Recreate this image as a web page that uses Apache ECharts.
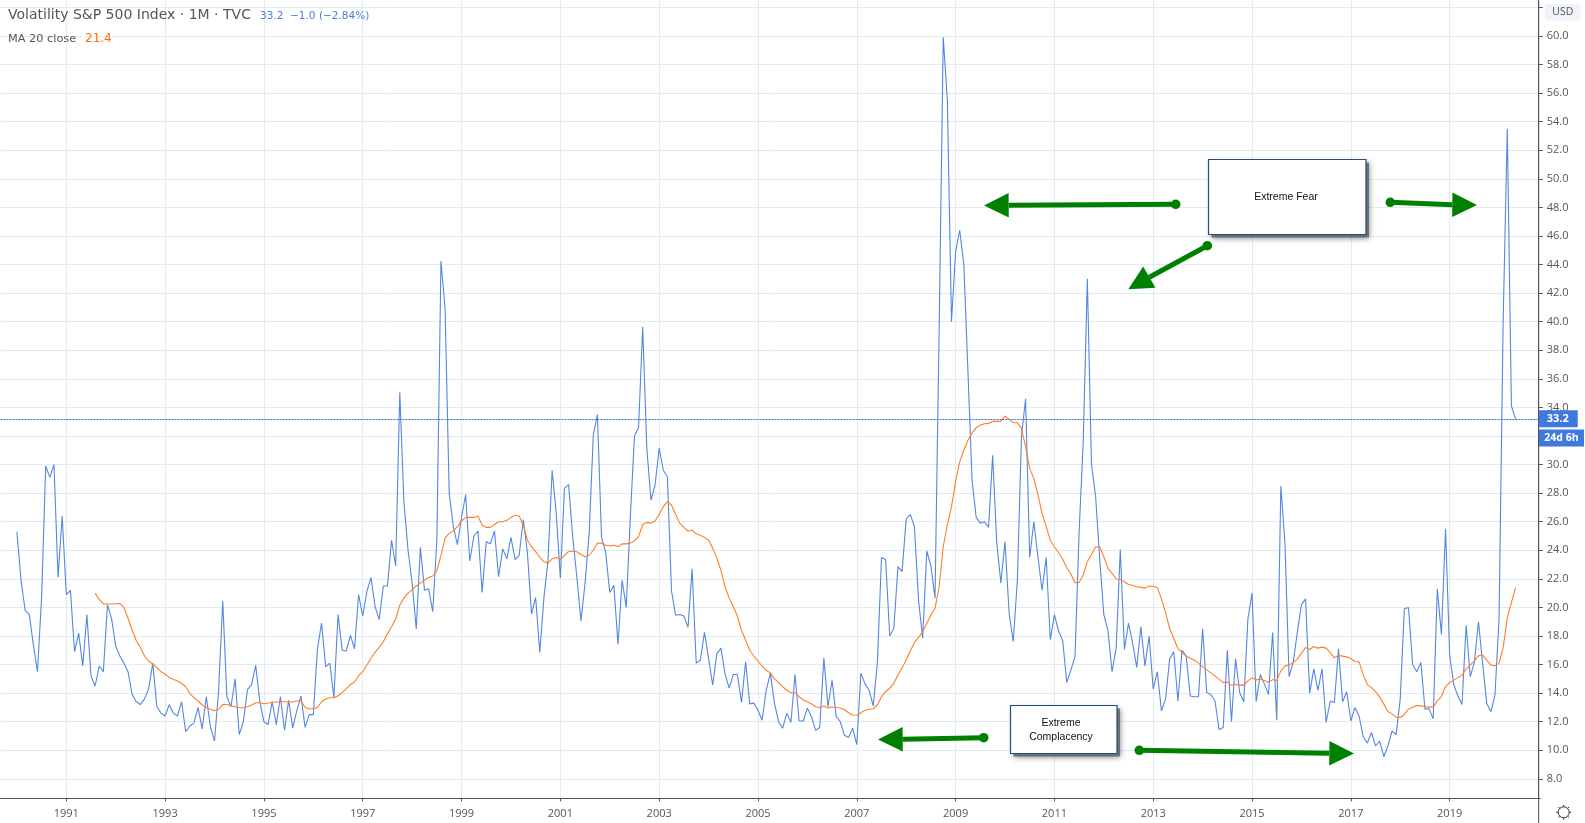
<!DOCTYPE html>
<html>
<head>
<meta charset="utf-8">
<title>Volatility S&P 500 Index</title>
<script src="https://cdn.jsdelivr.net/npm/echarts@6/dist/echarts.min.js"></script>
<style>
  html, body { margin: 0; padding: 0; background: #fff; }
  #chart { width: 1585px; height: 823px; }
</style>
</head>
<body>
<div id="chart"></div>
<script>
// monthly close, Jan 1990 to May 2020
const vixClose = [
  25.3, 21.9, 19.8, 19.5, 17.4, 15.5, 20.7, 29.9, 29.1, 30.0, 22.1, 26.4,
  20.9, 21.2, 16.9, 18.2, 15.9, 19.5, 15.2, 14.5, 15.9, 15.5, 20.2, 19.2,
  17.3, 16.6, 16.1, 15.5, 13.9, 13.4, 13.2, 13.6, 14.3, 16.1, 13.05, 12.6,
  12.4, 13.2, 12.6, 12.4, 13.4, 11.3, 11.7, 11.9, 13.0, 11.5, 13.75, 11.65,
  10.65, 14.2, 20.45, 13.75, 13.05, 15.0, 11.1, 12.0, 14.25, 14.6, 15.95, 13.4,
  12.0, 11.8, 13.4, 11.8, 13.75, 11.4, 13.5, 11.55, 12.8, 13.8, 11.6, 12.5,
  12.5, 17.1, 18.9, 15.85, 16.1, 13.7, 19.5, 17.0, 16.95, 18.05, 17.1, 20.9,
  19.4, 21.1, 22.1, 20.05, 19.15, 21.5, 21.5, 24.7, 22.9, 35.05, 27.4, 24.0,
  21.7, 18.5, 24.2, 21.2, 21.3, 19.7, 24.7, 44.25, 40.9, 28.0, 25.65, 24.4,
  26.3, 27.9, 23.25, 25.0, 25.35, 21.05, 24.6, 24.45, 25.35, 22.15, 24.1, 23.4,
  24.9, 23.35, 23.65, 26.15, 23.8, 19.55, 20.7, 16.85, 20.65, 23.3, 29.6, 26.6,
  22.05, 28.35, 28.6, 24.95, 22.15, 19.05, 21.7, 25.2, 32.05, 33.5, 24.9, 23.85,
  21.05, 21.55, 17.4, 21.9, 20.0, 26.35, 32.0, 32.6, 39.65, 31.15, 27.5, 28.55,
  31.15, 29.6, 29.15, 21.15, 19.45, 19.5, 19.4, 18.6, 22.7, 16.1, 16.3, 18.25,
  16.45, 14.55, 16.75, 17.15, 15.35, 14.35, 15.3, 15.3, 13.35, 16.2, 13.25, 13.3,
  12.8, 12.1, 14.2, 15.4, 13.3, 12.0, 11.55, 12.6, 11.95, 15.3, 12.05, 12.05,
  12.95, 12.35, 11.4, 11.6, 16.45, 13.05, 14.9, 12.35, 12.0, 11.05, 10.9, 11.55,
  10.4, 15.4, 14.65, 14.2, 13.1, 16.1, 23.5, 23.35, 18.0, 18.55, 22.85, 22.5,
  26.2, 26.5, 25.65, 20.5, 17.85, 23.95, 22.9, 20.65, 39.4, 59.9, 55.5, 40.0,
  44.9, 46.4, 44.0, 36.5, 28.9, 26.3, 25.9, 26.0, 25.6, 30.65, 24.5, 21.7,
  24.6, 19.6, 17.6, 21.9, 32.0, 34.6, 23.5, 26.0, 23.55, 21.2, 23.5, 17.75,
  19.5, 18.35, 17.7, 14.75, 15.6, 16.55, 25.3, 31.6, 43.0, 30.0, 27.8, 23.4,
  19.5, 18.4, 15.5, 17.15, 24.05, 17.05, 18.9, 17.5, 15.8, 18.65, 15.9, 18.0,
  14.3, 15.5, 12.75, 13.6, 16.4, 16.9, 13.45, 17.0, 16.6, 13.8, 13.75, 13.75,
  18.5, 14.05, 13.9, 13.45, 11.45, 11.6, 17.0, 12.0, 16.4, 14.05, 13.4, 19.2,
  21.0, 13.4, 15.3, 14.65, 13.9, 18.25, 12.1, 28.5, 24.5, 15.15, 16.15, 18.25,
  20.2, 20.6, 14.0, 15.7, 14.2, 15.7, 11.95, 13.45, 13.35, 17.1, 13.4, 14.1,
  12.05, 13.0, 12.4, 10.95, 10.5, 11.25, 10.3, 10.65, 9.55, 10.3, 11.35, 11.1,
  13.6, 19.9, 20.0, 16.0, 15.5, 16.15, 12.9, 12.9, 12.2, 21.3, 18.1, 25.5,
  16.65, 14.6, 13.8, 13.2, 18.75, 15.15, 16.15, 19.0, 16.1, 13.3, 12.7, 13.85,
  19.2, 40.1, 53.5, 34.1, 33.2
];

// MA 20 line, starts Aug 1991
const ma20 = [
  20.98, 20.56, 20.24, 20.24, 20.24,
  20.24, 20.28, 20.0, 19.24, 18.4, 17.67, 17.2, 16.6, 16.25, 16.04, 15.78, 15.5,
  15.34, 15.08, 14.97, 14.85, 14.69, 14.45, 13.99, 13.68, 13.45, 13.17, 13.0, 12.87,
  12.77, 12.87, 13.22, 13.2, 13.12, 13.05, 12.98, 12.98, 13.05, 13.15, 13.33, 13.33,
  13.26, 13.29, 13.36, 13.38, 13.4, 13.4, 13.38, 13.38, 13.45, 13.47, 13.0, 12.91,
  12.91, 13.0, 13.4, 13.59, 13.68, 13.68, 13.82, 14.03, 14.31, 14.59, 14.78, 15.22,
  15.5, 15.97, 16.44, 16.86, 17.2, 17.6, 18.15, 18.65, 19.18, 20.15, 20.65, 21.0,
  21.25, 21.5, 21.7, 21.9, 22.1, 22.2, 22.55, 23.65, 24.85, 25.2, 25.35, 25.65,
  26.05, 26.3, 26.3, 26.3, 26.4, 25.75, 25.6, 25.6, 25.8, 26.0, 26.0, 26.1,
  26.3, 26.45, 26.4, 25.75, 24.7, 24.25, 23.9, 23.5, 23.2, 23.1, 23.4, 23.5,
  23.35, 23.65, 23.9, 23.95, 23.9, 23.7, 23.55, 23.65, 24.0, 24.5, 24.5, 24.35,
  24.3, 24.35, 24.25, 24.45, 24.45, 24.5, 24.65, 24.95, 25.8, 25.95, 25.9, 26.05,
  26.5, 27.05, 27.4, 27.15, 26.5, 25.9, 25.6, 25.35, 25.4, 25.15, 25.05, 24.9,
  24.7, 24.15, 23.45, 22.6, 21.45, 20.65, 20.05, 19.4, 18.4, 17.7, 17.0, 16.6,
  16.25, 15.9, 15.6, 15.42, 15.0, 14.74, 14.45, 14.2, 14.03, 14.03, 13.75, 13.52,
  13.4, 13.24, 13.05, 12.98, 13.1, 12.96, 13.03, 13.0, 12.96, 12.84, 12.63, 12.47,
  12.45, 12.63, 12.8, 12.87, 12.91, 13.17, 13.75, 14.1, 14.34, 14.69, 15.27, 15.78,
  16.32, 16.97, 17.53, 17.9, 18.3, 18.88, 19.47, 19.93, 21.45, 24.25, 25.77, 27.05,
  28.8, 30.2, 31.0, 31.7, 32.2, 32.58, 32.76, 32.86, 32.88, 33.02, 33.02, 33.02,
  33.4, 33.16, 32.93, 32.93, 32.53, 31.25, 29.73, 29.03, 27.87, 26.58, 25.65, 24.72,
  24.25, 23.83, 23.39, 22.78, 22.34, 21.73, 21.75, 22.27, 23.2, 23.71, 24.23, 24.25,
  23.55, 22.73, 22.38, 21.99, 21.96, 21.8, 21.6, 21.55, 21.44, 21.42, 21.35, 21.5,
  21.46, 21.4, 20.58, 19.64, 18.52, 17.82, 17.12, 16.84, 16.6, 16.45, 16.31, 16.1,
  15.84, 15.63, 15.42, 15.21, 14.98, 14.74, 14.77, 14.56, 14.6, 14.56, 14.56, 14.86,
  15.07, 14.93, 14.98, 14.88, 14.74, 14.95, 14.88, 15.56, 15.91, 15.96, 16.14, 16.38,
  16.8, 17.19, 17.05, 17.26, 17.15, 17.22, 17.15, 16.84, 16.47, 16.63, 16.59, 16.54,
  16.42, 16.21, 16.19, 15.28, 14.6, 14.39, 14.11, 13.74, 13.23, 12.72, 12.55, 12.32,
  12.3, 12.51, 12.88, 13.02, 13.14, 13.11, 13.07, 13.02, 13.02, 13.46, 13.76, 14.46,
  14.74, 14.91, 15.07, 15.26, 15.68, 15.96, 16.26, 16.61, 16.66, 16.31, 15.98, 15.91,
  16.1, 17.19, 19.29, 20.34, 21.39
];

const yTickValues = [8, 10, 12, 14, 16, 18, 20, 22, 24, 26, 28, 30, 32, 34, 36, 38, 40, 42, 44, 46, 48, 50, 52, 54, 56, 58, 60, 62];
const yLabelValues = [8, 10, 12, 14, 16, 18, 20, 22, 24, 26, 28, 30, 32, 34, 36, 38, 40, 42, 44, 46, 48, 50, 52, 54, 56, 58, 60];
const lastPrice = 33.2;

// axis runs a little past the data on both sides, Sep 1989 to Nov 2020
const months = [];
for (let y = 1989; y <= 2020; y++) {
  for (let m = 1; m <= 12; m++) {
    if ((y === 1989 && m < 9) || (y === 2020 && m > 11)) continue;
    months.push(y + "-" + (m < 10 ? "0" + m : m));
  }
}
const leadGap = months.indexOf("1990-01");
const vixData = new Array(leadGap).fill(null).concat(vixClose);
const maData = new Array(months.indexOf("1991-08")).fill(null).concat(ma20);

function isLabelMonth(idx, value) {
  const parts = value.split("-");
  return parts[1] === "01" && Number(parts[0]) % 2 === 1;
}

const GREEN = "#008000";
const FONT = "'Open Sans', sans-serif";
const LEGEND_FONT = "'DejaVu Sans', sans-serif";
const BOX_FONT = "'Liberation Sans', sans-serif";

function arrow(dot, base, tip, halfHead) {
  const dx = tip[0] - base[0];
  const dy = tip[1] - base[1];
  const len = Math.sqrt(dx * dx + dy * dy);
  const nx = -dy / len * halfHead;
  const ny = dx / len * halfHead;
  return [
    { type: "line", z: 20, shape: { x1: dot[0], y1: dot[1], x2: base[0], y2: base[1] }, style: { stroke: GREEN, lineWidth: 5 } },
    { type: "circle", z: 20, shape: { cx: dot[0], cy: dot[1], r: 4.8 }, style: { fill: GREEN } },
    { type: "polygon", z: 20, shape: { points: [tip, [base[0] + nx, base[1] + ny], [base[0] - nx, base[1] - ny]] }, style: { fill: GREEN } }
  ];
}

// shadow sits in its own rect so it does not bleed through the white box
function noteBox(x, y, w, h) {
  return [
    {
      type: "rect", z: 18,
      shape: { x: x + 3.5, y: y + 3.5, width: w, height: h },
      style: { fill: "rgba(100,100,100,0.85)", shadowBlur: 6, shadowColor: "rgba(0,0,0,0.6)" }
    },
    {
      type: "rect", z: 19,
      shape: { x: x + 0.5, y: y + 0.5, width: w, height: h },
      style: { fill: "#fff", stroke: "#1f4e86", lineWidth: 1.2 }
    }
  ];
}

function noteText(cx, cy, str) {
  return {
    type: "text", z: 21, x: cx, y: cy,
    style: { text: str, fill: "#111", font: "10.5px " + BOX_FONT, align: "center", verticalAlign: "middle" }
  };
}

function plainText(x, y, str, color, size) {
  return {
    type: "text", z: 21, x: x, y: y,
    style: { text: str, fill: color, font: size + "px " + LEGEND_FONT, verticalAlign: "middle" }
  };
}

const sunRays = [];
for (let a = 0; a < 8; a++) {
  const ang = a * Math.PI / 4;
  sunRays.push({
    type: "line", z: 20,
    shape: {
      x1: 1563.7 + Math.cos(ang) * 5.5, y1: 812.3 + Math.sin(ang) * 5.5,
      x2: 1563.7 + Math.cos(ang) * 7.5, y2: 812.3 + Math.sin(ang) * 7.5
    },
    style: { stroke: "#333", lineWidth: 1 }
  });
}

const graphics = [
  plainText(8, 15, "Volatility S&P 500 Index · 1M · TVC", "#555", 14),
  plainText(260, 16, "33.2  −1.0 (−2.84%)", "#4a7fdc", 10.5),
  plainText(8, 39, "MA 20 close", "#555", 11.3),
  plainText(85, 39, "21.4", "#ff6d00", 12),
  noteText(1286, 197, "Extreme Fear"),
  noteText(1061, 723, "Extreme"),
  noteText(1061, 737, "Complacency"),
  // axis line carries on below the time scale
  { type: "line", z: 5, shape: { x1: 1538.7, y1: 0, x2: 1538.7, y2: 823 }, style: { stroke: "#50535e", lineWidth: 1 } },
  // usd box
  { type: "rect", z: 5, shape: { x: 1545, y: 4, width: 35.7, height: 16.7, r: 3 }, style: { fill: "#f0f3fa" } },
  { type: "text", z: 6, x: 1562.8, y: 12.3, style: { text: "USD", fill: "#555", font: "10.5px " + FONT, align: "center", verticalAlign: "middle" } },
  // countdown under the price tag
  { type: "rect", z: 5, shape: { x: 1539, y: 429.5, width: 45, height: 17 }, style: { fill: "#4079dc" } },
  { type: "text", z: 6, x: 1561.5, y: 438.2, style: { text: "24d 6h", fill: "#fff", font: "bold 10.5px " + FONT, align: "center", verticalAlign: "middle" } },
  { type: "circle", z: 20, shape: { cx: 1563.7, cy: 812.3, r: 5.5 }, style: { fill: "#fff", stroke: "#333", lineWidth: 1 } }
].concat(
  noteBox(1208, 159, 157.5, 75),
  noteBox(1010, 705, 106.5, 48),
  sunRays,
  arrow([1175.7, 204.3], [1008.7, 205.3], [984, 205.5], 12.3),
  arrow([1207.3, 245.7], [1149.3, 277.2], [1128.3, 289.3], 12.3),
  arrow([1390.3, 202.3], [1452.3, 204.7], [1477, 205], 12.3),
  arrow([983.7, 737.7], [902.7, 739.3], [878, 739.5], 12.3),
  arrow([1139.3, 750.3], [1329.3, 753.3], [1354, 753.5], 12.3)
);

const chart = echarts.init(document.getElementById("chart"));
chart.setOption({
  animation: false,
  backgroundColor: "#fff",
  grid: { left: 0.43, top: 0.2, width: 1539.8, height: 798.1, containLabel: false },
  xAxis: {
    type: "category",
    data: months,
    boundaryGap: false,
    axisLine: { lineStyle: { color: "#50535e", width: 1 } },
    axisTick: { interval: isLabelMonth, length: 3, lineStyle: { color: "#50535e" } },
    splitLine: { show: true, interval: isLabelMonth, lineStyle: { color: "#e1ecf2", width: 1 } },
    axisLabel: {
      interval: isLabelMonth,
      color: "#555",
      fontFamily: FONT,
      fontSize: 11,
      margin: 10,
      formatter: function (value) { return value.slice(0, 4); }
    }
  },
  yAxis: {
    type: "value",
    position: "right",
    offset: -1.5,
    min: 6.64,
    max: 62.5,
    axisLine: { show: true, lineStyle: { color: "#50535e", width: 1 } },
    axisTick: { show: true, customValues: yTickValues, length: 4, lineStyle: { color: "#50535e" } },
    splitLine: { show: true, lineStyle: { color: "#e1ecf2", width: 1 } },
    axisLabel: {
      customValues: yLabelValues,
      color: "#555",
      fontFamily: FONT,
      fontSize: 11,
      margin: 8,
      padding: [2, 0, 0, 0],
      formatter: function (v) { return v.toFixed(1); }
    }
  },
  series: [
    {
      name: "Volatility S&P 500 Index",
      type: "line",
      data: vixData,
      symbol: "none",
      silent: true,
      lineStyle: { color: "#5587e0", width: 1.1 },
      markLine: {
        silent: true,
        symbol: "none",
        data: [{ yAxis: lastPrice }],
        lineStyle: { color: "#3a6fd0", type: [2, 1], width: 1.2 },
        label: {
          position: "end",
          distance: -1.5,
          formatter: function () { return "33.2"; },
          color: "#fff",
          fontFamily: FONT,
          fontSize: 11,
          fontWeight: "bold",
          backgroundColor: "#4079dc",
          padding: [3, 9, 3, 8]
        }
      }
    },
    {
      name: "MA 20 close",
      type: "line",
      data: maData,
      symbol: "none",
      silent: true,
      lineStyle: { color: "#ff7f27", width: 1.1 }
    }
  ],
  graphic: graphics
});
window.addEventListener("resize", function () {
  chart.resize();
});
</script>
</body>
</html>
